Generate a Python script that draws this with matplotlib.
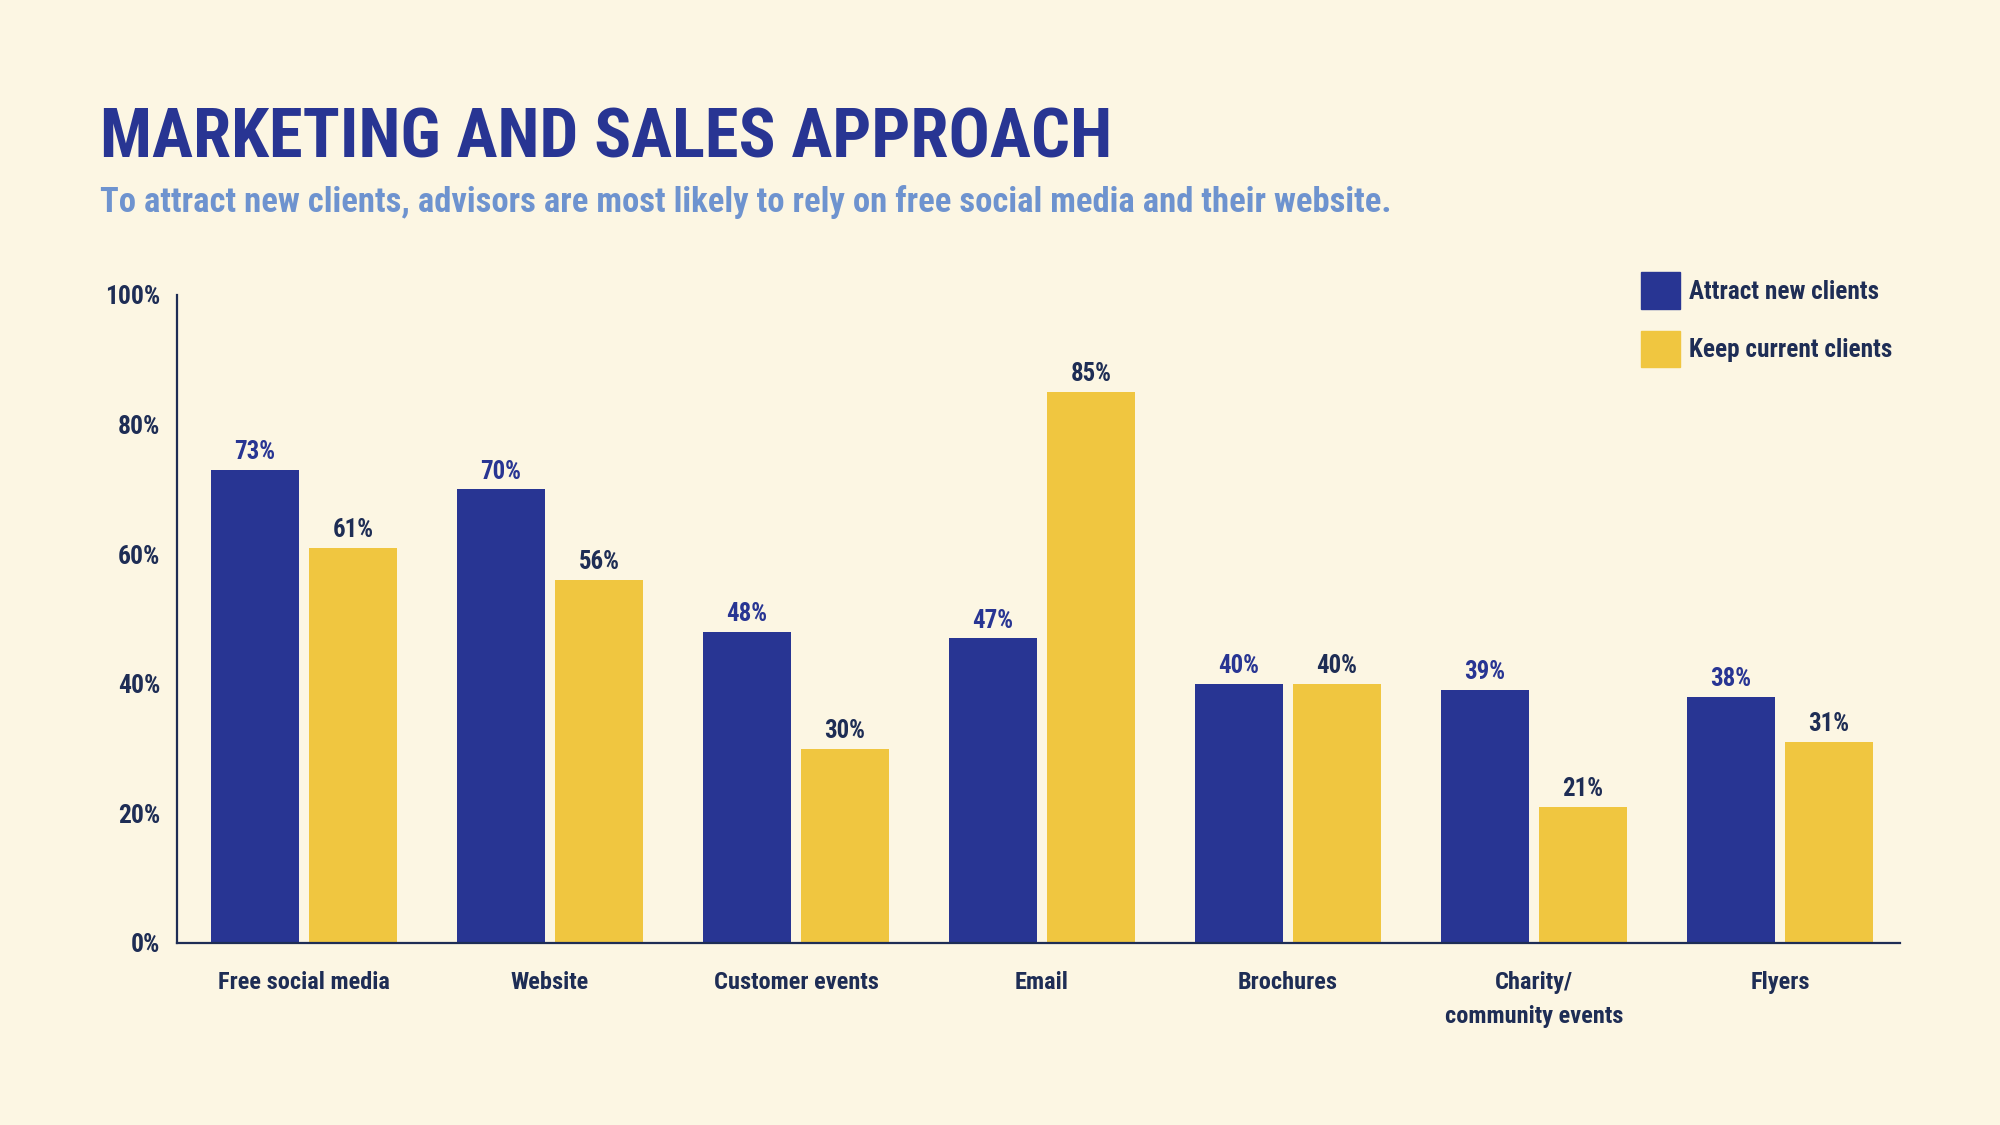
import matplotlib
matplotlib.use('Agg')
import numpy as np
import matplotlib.pyplot as plt
from matplotlib.patches import Patch
from matplotlib import font_manager

categories = ['Free social media', 'Website', 'Customer events', 'Email',
              'Brochures', 'Charity/\ncommunity events', 'Flyers']
attract = [73, 70, 48, 47, 40, 39, 38]
keep = [61, 56, 30, 85, 40, 21, 31]
yticks = [0, 20, 40, 60, 80, 100]

BG = '#fcf6e3'
BLUE = '#283593'
YELLOW = '#f0c640'
NAVY = '#1e2d55'
LIGHT = '#6e93cf'

# pick a condensed family that is installed
names = {f.name for f in font_manager.fontManager.ttflist}
FONT = 'DejaVu Sans'
for cand in ['Roboto Condensed', 'Barlow Condensed', 'Archivo Narrow',
             'IBM Plex Sans Condensed', 'Open Sans Condensed']:
    if cand in names:
        FONT = cand
        break
plt.rcParams['font.family'] = [FONT, 'DejaVu Sans']
plt.rcParams['font.weight'] = 'bold'

fig = plt.figure(figsize=(20, 11.25), dpi=100, facecolor=BG)
renderer = fig.canvas.get_renderer()


def fit_size(s, target_px, base=20):
    t = fig.text(0, 0, s, fontsize=base, fontweight='bold')
    wpx = t.get_window_extent(renderer).width
    t.remove()
    return base * target_px / wpx


title_fs = fit_size('MARKETING AND SALES APPROACH', 1014)
sub_fs = fit_size('To attract new clients, advisors are most likely to rely on free social media and their website.', 1285)
tick_fs = fit_size('Free social media', 171)
ytick_fs = fit_size('100%', 55)
leg_fs = fit_size('Attract new clients', 189)
val_fs = fit_size('73%', 41)

ax = fig.add_axes([0.0885, 0.1618, 0.8615, 0.576])
ax.set_facecolor(BG)

x = np.arange(len(categories))
w = 0.358
off = 0.199
b1 = ax.bar(x - off, attract, w, color=BLUE, label='Attract new clients')
b2 = ax.bar(x + off, keep, w, color=YELLOW, label='Keep current clients')

for rect, v in zip(b1, attract):
    ax.text(rect.get_x() + rect.get_width() / 2, v + 0.9, f'{v}%', ha='center', va='bottom',
            fontsize=val_fs, color=BLUE, fontweight='bold')
for rect, v in zip(b2, keep):
    ax.text(rect.get_x() + rect.get_width() / 2, v + 0.9, f'{v}%', ha='center', va='bottom',
            fontsize=val_fs, color=NAVY, fontweight='bold')

ax.set_xlim(-0.516, 6.488)
ax.set_ylim(0, 100)
ax.set_yticks(yticks)
ax.set_yticklabels([f'{t}%' for t in yticks])
ax.set_xticks(x)
ax.set_xticklabels(categories, linespacing=28.6 / tick_fs)
ax.tick_params(axis='both', length=0, labelcolor=NAVY)
ax.tick_params(axis='x', pad=20, labelsize=tick_fs)
ax.tick_params(axis='y', pad=12, labelsize=ytick_fs)
for lab in ax.get_xticklabels() + ax.get_yticklabels():
    lab.set_fontweight('bold')
for s in ['top', 'right']:
    ax.spines[s].set_visible(False)
for s in ['left', 'bottom']:
    ax.spines[s].set_color(NAVY)
    ax.spines[s].set_linewidth(1.6)

handles = [Patch(color=BLUE, label='Attract new clients'),
           Patch(color=YELLOW, label='Keep current clients')]
sq = 28.0  # legend square side in points
leg = ax.legend(handles=handles, loc='upper left', bbox_to_anchor=(0.8497, 1.035),
                frameon=False, fontsize=leg_fs, handlelength=sq / leg_fs,
                handleheight=(sq + 0.3 * leg_fs) / leg_fs, handletextpad=0.35,
                labelspacing=(49.6 - sq - 0.3 * leg_fs) / leg_fs,
                borderaxespad=0, borderpad=0)
for t in leg.get_texts():
    t.set_color(NAVY)
    t.set_fontweight('bold')

fig.text(0.05, 0.8596, 'MARKETING AND SALES APPROACH', fontsize=title_fs, color=BLUE,
         fontweight='bold', ha='left', va='baseline')
fig.text(0.05, 0.8116, 'To attract new clients, advisors are most likely to rely on free social media and their website.',
         fontsize=sub_fs, color=LIGHT, fontweight='bold', ha='left', va='baseline')

fig.savefig('out.png', dpi=100, facecolor=BG)
